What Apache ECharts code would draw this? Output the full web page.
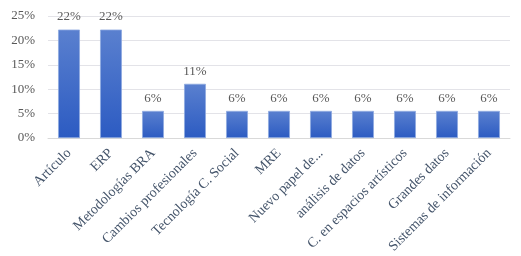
<!DOCTYPE html>
<html><head><meta charset="utf-8">
<script src="https://cdn.jsdelivr.net/npm/echarts@6/dist/echarts.min.js"></script>
<style>html,body{margin:0;padding:0;background:#fff}#c{width:521px;height:256px}</style>
</head><body><div id="c"></div>
<script>
const categories = ['Artículo','ERP','Metodologías BRA','Cambios profesionales','Tecnología C. Social','MRE','Nuevo papel de...','análisis de datos','C. en espacios artísticos','Grandes datos','Sistemas de información'];
const values = [22.22,22.22,5.56,11.11,5.56,5.56,5.56,5.56,5.56,5.56,5.56];
const yTicks = [0,5,10,15,20,25];
const font = '"Liberation Serif", "DejaVu Serif", serif';
const chart = echarts.init(document.getElementById('c'));
chart.setOption({
  animation:false,
  grid:{left:48,right:11,top:16,bottom:117,containLabel:false},
  xAxis:{type:'category',data:categories,
    axisLine:{lineStyle:{color:'#d9d9d9'}},axisTick:{show:false},
    axisLabel:{rotate:45,interval:0,color:'#44546a',fontFamily:font,fontSize:14,margin:13}},
  yAxis:{type:'value',min:0,max:25,interval:5,
    axisLabel:{formatter:v=>v+'%',color:'#595959',fontFamily:font,fontSize:13,margin:13},
    splitLine:{lineStyle:{color:'#e3e3e8',width:1}},axisLine:{show:false},axisTick:{show:false}},
  series:[{type:'bar',data:values,barWidth:'52%',
    itemStyle:{color:new echarts.graphic.LinearGradient(0,0,0,1,[{offset:0,color:'#5a80cf'},{offset:1,color:'#2c5bc2'}]),borderColor:'#8eaadf',borderWidth:0.8},
    label:{show:true,position:'top',distance:6,formatter:p=>Math.round(p.value)+'%',color:'#595959',fontFamily:font,fontSize:13}}]
});
</script></body></html>
